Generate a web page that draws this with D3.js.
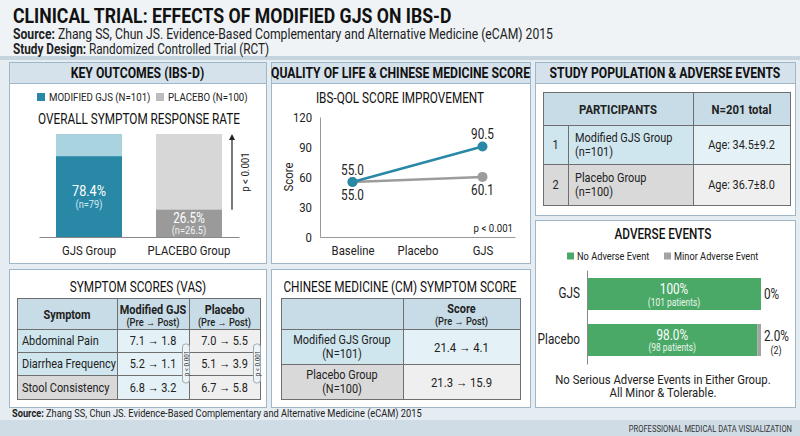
<!DOCTYPE html>
<html>
<head>
<meta charset="utf-8">
<script src="https://cdn.jsdelivr.net/npm/d3@7"></script>
<style>
  body { margin: 0; background: #e6edf2; }
  svg { display: block; font-family: Roboto, "Noto Sans", sans-serif; }
</style>
</head>
<body>
<script>
// ---- data ----
var chartTitle = 'CLINICAL TRIAL: EFFECTS OF MODIFIED GJS ON IBS-D';
var sourceText = 'Zhang SS, Chun JS. Evidence-Based Complementary and Alternative Medicine (eCAM) 2015';
var designText = 'Randomized Controlled Trial (RCT)';

var legendLabels = ['MODIFIED GJS (N=101)', 'PLACEBO (N=100)'];
var responseGroups = ['GJS Group', 'PLACEBO Group'];
var responseRates = [78.4, 26.5];
var responseN = ['(n=79)', '(n=26.5)'];

var vasSymptoms = ['Abdominal Pain', 'Diarrhea Frequency', 'Stool Consistency'];
var vasGjsPre = [7.1, 5.2, 6.8],
    vasGjsPost = [1.8, 1.1, 3.2],
    vasPlaPre = [7.0, 5.1, 6.7],
    vasPlaPost = [5.5, 3.9, 5.8];

var qolStages = ['Baseline', 'Placebo', 'GJS'];
var qolTicks = [0, 30, 60, 90, 120];
var qolGjs = [{stage: 'Baseline', v: 55.0}, {stage: 'GJS', v: 90.5}];
var qolPlacebo = [{stage: 'Baseline', v: 55.0}, {stage: 'GJS', v: 60.1}];

var cmGroups = ['Modified GJS Group', 'Placebo Group'];
var cmN = ['(N=101)', '(N=100)'];
var cmPre = [21.4, 21.3], cmPost = [4.1, 15.9];

var popGroups = ['Modified GJS Group', 'Placebo Group'];
var popN = ['(n=101)', '(n=100)'];
var popAgeMean = [34.5, 36.7], popAgeSd = [9.2, 8.0];
var popTotal = 201;

var aeGroups = ['GJS', 'Placebo'];
var aeNone = [100, 98.0], aeMinor = [0, 2.0];
var aeNonePatients = ['(101 patients)', '(98 patients)'];
var aeMinorLabels = ['0%', '2.0%'], aeMinorN = ['', '(2)'];

var teal = '#2a88a7', tealLight = '#a9d3df',
    grayDark = '#9a9a9a', grayLight = '#d7d7d7',
    green = '#4ba967', minorGray = '#a3a3a3';

var W = 800, H = 436, CONDENSE = 0.84;

var svg = d3.select('body').append('svg')
    .attr('width', W)
    .attr('height', H);

// background bands
svg.append('rect').attr('width', W).attr('height', H).attr('fill', '#e6edf2');
svg.append('rect').attr('width', W).attr('height', 56).attr('fill', '#eff3f6');
svg.append('rect').attr('y', 56).attr('width', W).attr('height', 4).attr('fill', '#c6d4de');
svg.append('rect').attr('y', 420).attr('width', W).attr('height', 16).attr('fill', '#d0dce5');

function txt(g, x, y, s, o) {
  o = o || {};
  return g.append('text')
    .attr('x', x).attr('y', y)
    .attr('text-anchor', o.anchor || 'middle')
    .attr('dominant-baseline', 'central')
    .style('font-size', (o.size || 12) + 'px')
    .style('font-weight', o.weight || 400)
    .style('fill', o.fill || '#222')
    .text(s);
}

function panel(x, y, w, h, title) {
  var g = svg.append('g');
  g.append('rect')
    .attr('x', x + 0.5).attr('y', y + 0.5)
    .attr('width', w).attr('height', h)
    .attr('fill', '#fff').attr('stroke', '#9fb7c7');
  if (title) {
    g.append('rect')
      .attr('x', x + 0.5).attr('y', y + 0.5)
      .attr('width', w).attr('height', 21)
      .attr('fill', '#d5e2eb').attr('stroke', '#9fb7c7');
    txt(g, x + w / 2, y + 11, title, {size: 14.5, weight: 700, fill: '#111'});
  }
  return g;
}

// draws a grid table from column edges, row edges and a cell-fill function
function grid(g, cols, rows, fill) {
  var cells = [];
  rows.slice(0, -1).forEach(function(r, i) {
    cols.slice(0, -1).forEach(function(c, j) {
      cells.push({r: i, c: j, x: c, y: r, w: cols[j + 1] - c, h: rows[i + 1] - r});
    });
  });
  g.selectAll(null)
    .data(cells)
    .enter().append('rect')
    .attr('x', function(d) { return d.x + 0.5; })
    .attr('y', function(d) { return d.y + 0.5; })
    .attr('width', function(d) { return d.w; })
    .attr('height', function(d) { return d.h; })
    .attr('fill', fill)
    .attr('stroke', '#6f6f6f');
}

// ---- header ----
txt(svg, 13, 16, chartTitle, {anchor: 'start', size: 21, weight: 700, fill: '#111'});
var s1 = txt(svg, 13, 34, '', {anchor: 'start', size: 14.5});
s1.append('tspan').style('font-weight', 700).text('Source: ');
s1.append('tspan').text(sourceText);
var s2 = txt(svg, 13, 49, '', {anchor: 'start', size: 14});
s2.append('tspan').style('font-weight', 700).text('Study Design: ');
s2.append('tspan').text(designText);

// ---- key outcomes ----
var p1 = panel(9, 62, 257, 201, 'KEY OUTCOMES (IBS-D)');

var legend = p1.selectAll('.lg')
    .data(legendLabels)
  .enter().append('g')
    .attr('transform', function(d, i) { return 'translate(' + (37 + i * 119) + ',97)'; });
legend.append('rect')
    .attr('y', -4).attr('width', 8).attr('height', 8)
    .attr('fill', function(d, i) { return i ? '#bdbdbd' : teal; });
legend.append('text')
    .attr('x', 12)
    .attr('dominant-baseline', 'central')
    .style('font-size', '11.5px').style('fill', '#222')
    .text(function(d) { return d; });

txt(p1, 139, 119, 'OVERALL SYMPTOM RESPONSE RATE', {size: 14, fill: '#111'});

var bx = d3.scaleBand()
    .domain(responseGroups)
    .range([39, 239])
    .paddingInner(0.34)
    .paddingOuter(0.17);
var by = d3.scaleLinear().domain([0, 100]).range([237, 134]);

p1.selectAll('.bg')
    .data(responseGroups)
  .enter().append('rect')
    .attr('x', function(d) { return bx(d); })
    .attr('y', by(100))
    .attr('width', bx.bandwidth())
    .attr('height', by(0) - by(100))
    .attr('fill', function(d, i) { return i ? grayLight : tealLight; });

p1.selectAll('.val')
    .data(responseRates)
  .enter().append('rect')
    .attr('x', function(d, i) { return bx(responseGroups[i]); })
    .attr('y', function(d) { return by(d); })
    .attr('width', bx.bandwidth())
    .attr('height', function(d) { return by(0) - by(d); })
    .attr('fill', function(d, i) { return i ? grayDark : teal; });

responseRates.forEach(function(d, i) {
  var cx = bx(responseGroups[i]) + bx.bandwidth() / 2;
  var mid = i ? by(d) + 8 : (by(d) + by(0)) / 2 - 6;
  txt(p1, cx, mid, d.toFixed(1) + '%', {size: i ? 14 : 15, fill: '#fff'});
  txt(p1, cx, mid + (i ? 12.5 : 14), responseN[i], {size: 11, fill: i ? '#f2f2f2' : '#d5ebf2'});
});

var bAxis = p1.append('g')
    .attr('transform', 'translate(0,' + by(0) + ')')
    .call(d3.axisBottom(bx).tickSize(0).tickPadding(8));
bAxis.select('.domain').attr('stroke', '#888');
bAxis.selectAll('text').style('font-size', '13.5px').style('fill', '#222')
    .style('font-family', 'Roboto, sans-serif');

// p-value arrow
p1.append('line')
    .attr('x1', 232).attr('x2', 232)
    .attr('y1', by(26.5)).attr('y2', by(100) + 5)
    .attr('stroke', '#222').attr('stroke-width', 1.2);
p1.append('path')
    .attr('d', d3.line()([[229, by(100) + 6], [232, by(100)], [235, by(100) + 6]]))
    .attr('fill', '#222');
txt(p1, 245, 172, 'p < 0.001', {size: 11.5})
    .attr('transform', 'rotate(-90,245,172)');

// ---- symptom scores (VAS) ----
var p2 = panel(9, 269, 257, 138);
txt(p2, 138, 287, 'SYMPTOM SCORES (VAS)', {size: 14, fill: '#111'});
var vCols = [17, 117, 189, 260], vRows = [298, 329, 352, 375, 399];
grid(p2, vCols, vRows, function(d) {
  if (d.r === 0) return '#c8dce7';
  if (d.c === 0) return d.r < 3 ? '#cfe6ee' : '#d9d9d9';
  return d.c === 1 ? '#e4f1f6' : '#efefef';
});
txt(p2, 67, 314, 'Symptom', {size: 13, weight: 700});
txt(p2, 153, 309, 'Modified GJS', {size: 13, weight: 700});
txt(p2, 153, 322, '(Pre \u2192 Post)', {size: 11, weight: 500});
txt(p2, 224.5, 309, 'Placebo', {size: 13, weight: 700});
txt(p2, 224.5, 322, '(Pre \u2192 Post)', {size: 11, weight: 500});
vasSymptoms.forEach(function(s, i) {
  var cy = (vRows[i + 1] + vRows[i + 2]) / 2;
  txt(p2, 22, cy, s, {anchor: 'start', size: 13});
  txt(p2, 153, cy, vasGjsPre[i].toFixed(1) + ' \u2192 ' + vasGjsPost[i].toFixed(1), {size: 13});
  txt(p2, 224.5, cy, vasPlaPre[i].toFixed(1) + ' \u2192 ' + vasPlaPost[i].toFixed(1), {size: 13});
});
[186, 257].forEach(function(bxp) {
  p2.append('rect')
    .attr('x', bxp - 3.5).attr('y', 344).attr('width', 7).attr('height', 39).attr('rx', 3)
    .attr('fill', '#eef3f6').attr('stroke', '#9aaab5');
  txt(p2, bxp, 363.5, 'p < 0.001', {size: 7.5, fill: '#333'})
    .attr('transform', 'rotate(-90,' + bxp + ',363.5)');
});

// ---- quality of life ----
var p3 = panel(271, 62, 259, 201, 'QUALITY OF LIFE & CHINESE MEDICINE SCORE');
txt(p3, 400, 98, 'IBS-QOL SCORE IMPROVEMENT', {size: 14, fill: '#111'});

var qx = d3.scalePoint().domain(qolStages).range([320, 515]).padding(0.5);
var qy = d3.scaleLinear().domain([0, 120]).range([237, 117]);

var yAx = p3.append('g')
    .attr('transform', 'translate(320,0)')
    .call(d3.axisLeft(qy).tickValues(qolTicks).tickSize(0).tickPadding(8));
var xAx = p3.append('g')
    .attr('transform', 'translate(0,237)')
    .call(d3.axisBottom(qx).tickSize(0).tickPadding(8));
[yAx, xAx].forEach(function(a) {
  a.select('.domain').attr('stroke', '#999');
  a.selectAll('text').style('font-size', '13.5px').style('fill', '#222')
    .style('font-family', 'Roboto, sans-serif');
});
txt(p3, 288, 177, 'Score', {size: 13.5})
    .attr('transform', 'rotate(-90,288,177)');

var qline = d3.line()
    .x(function(d) { return qx(d.stage); })
    .y(function(d) { return qy(d.v); });
[[qolPlacebo, '#9c9c9c'], [qolGjs, teal]].forEach(function(s) {
  p3.append('path').attr('d', qline(s[0]))
    .attr('fill', 'none').attr('stroke', s[1]).attr('stroke-width', 2.5);
  p3.selectAll(null).data(s[0]).enter().append('circle')
    .attr('cx', function(d) { return qx(d.stage); })
    .attr('cy', function(d) { return qy(d.v); })
    .attr('r', 5).attr('fill', s[1]);
});
txt(p3, qx('Baseline'), qy(qolGjs[0].v) - 12, qolGjs[0].v.toFixed(1), {size: 14});
txt(p3, qx('Baseline'), qy(qolPlacebo[0].v) + 13, qolPlacebo[0].v.toFixed(1), {size: 14});
txt(p3, qx('GJS'), qy(qolGjs[1].v) - 13, qolGjs[1].v.toFixed(1), {size: 14});
txt(p3, qx('GJS'), qy(qolPlacebo[1].v) + 13, qolPlacebo[1].v.toFixed(1), {size: 14});
txt(p3, 513, 228, 'p < 0.001', {anchor: 'end', size: 11.5});

// ---- CM symptom score ----
var p4 = panel(271, 269, 259, 138);
txt(p4, 400, 287, 'CHINESE MEDICINE (CM) SYMPTOM SCORE', {size: 14, fill: '#111'});
var cCols = [281, 403, 520], cRows = [298, 329, 364, 399];
grid(p4, cCols, cRows, function(d) {
  if (d.r === 0) return '#c8dce7';
  if (d.c === 0) return d.r === 1 ? '#cfe6ee' : '#d9d9d9';
  return d.r === 1 ? '#e4f1f6' : '#efefef';
});
txt(p4, 461.5, 308, 'Score', {size: 13, weight: 700});
txt(p4, 461.5, 321, '(Pre \u2192 Post)', {size: 11, weight: 500});
cmGroups.forEach(function(s, i) {
  var cy = (cRows[i + 1] + cRows[i + 2]) / 2;
  txt(p4, 342, cy - 7, s, {size: 13});
  txt(p4, 342, cy + 7, cmN[i], {size: 13});
  txt(p4, 461.5, cy, cmPre[i].toFixed(1) + ' \u2192 ' + cmPost[i].toFixed(1), {size: 13.5});
});

// ---- study population ----
var p5 = panel(535, 62, 260, 153, 'STUDY POPULATION & ADVERSE EVENTS');
var pCols = [543, 568, 693, 790], pRows = [92, 125, 164, 205];
p5.append('rect')
    .attr('x', pCols[0] + 0.5).attr('y', pRows[0] + 0.5)
    .attr('width', pCols[2] - pCols[0]).attr('height', pRows[1] - pRows[0])
    .attr('fill', '#c8dce7').attr('stroke', '#6f6f6f');
p5.append('rect')
    .attr('x', pCols[2] + 0.5).attr('y', pRows[0] + 0.5)
    .attr('width', pCols[3] - pCols[2]).attr('height', pRows[1] - pRows[0])
    .attr('fill', '#c8dce7').attr('stroke', '#6f6f6f');
grid(p5, pCols, pRows.slice(1), function(d) {
  if (d.c < 2) return d.r === 0 ? '#cfe6ee' : '#d9d9d9';
  return d.r === 0 ? '#e4f1f6' : '#efefef';
});
txt(p5, 618, 108.5, 'PARTICIPANTS', {size: 13.5, weight: 700});
txt(p5, 741.5, 108.5, 'N=' + popTotal + ' total', {size: 13.5, weight: 700});
popGroups.forEach(function(s, i) {
  var cy = (pRows[i + 1] + pRows[i + 2]) / 2;
  txt(p5, 555.5, cy, String(i + 1), {size: 13});
  txt(p5, 575, cy - 7, s, {anchor: 'start', size: 13});
  txt(p5, 575, cy + 7, popN[i], {anchor: 'start', size: 13});
  txt(p5, 741.5, cy, 'Age: ' + popAgeMean[i].toFixed(1) + '\u00b1' + popAgeSd[i].toFixed(1), {size: 13});
});

// ---- adverse events ----
var p6 = panel(535, 220, 260, 187);
txt(p6, 663, 234, 'ADVERSE EVENTS', {size: 14, weight: 500, fill: '#111'});
var aeLegend = p6.selectAll('.ael')
    .data(['No Adverse Event', 'Minor Adverse Event'])
  .enter().append('g')
    .attr('transform', function(d, i) { return 'translate(' + (567 + i * 97) + ',256)'; });
aeLegend.append('rect')
    .attr('y', -3.5).attr('width', 7).attr('height', 7)
    .attr('fill', function(d, i) { return i ? minorGray : green; });
aeLegend.append('text')
    .attr('x', 10)
    .attr('dominant-baseline', 'central')
    .style('font-size', '11px').style('fill', '#222')
    .text(function(d) { return d; });

var ay = d3.scaleBand().domain(aeGroups).range([270, 364]).paddingInner(0.304).paddingOuter(0.174);
var ax = d3.scaleLinear().domain([0, 100]).range([587, 761]);

p6.selectAll('.aen')
    .data(aeNone)
  .enter().append('rect')
    .attr('x', ax(0))
    .attr('y', function(d, i) { return ay(aeGroups[i]); })
    .attr('width', function(d) { return ax(d) - ax(0); })
    .attr('height', ay.bandwidth())
    .attr('fill', green);
p6.selectAll('.aem')
    .data(aeMinor)
  .enter().append('rect')
    .attr('x', function(d, i) { return ax(aeNone[i]); })
    .attr('y', function(d, i) { return ay(aeGroups[i]); })
    .attr('width', function(d, i) { return ax(aeNone[i] + d) - ax(aeNone[i]); })
    .attr('height', ay.bandwidth())
    .attr('fill', minorGray);

var aAx = p6.append('g')
    .attr('transform', 'translate(' + ax(0) + ',0)')
    .call(d3.axisLeft(ay).tickSize(0).tickPadding(7));
aAx.select('.domain').attr('stroke', '#888');
aAx.selectAll('text').style('font-size', '14px').style('fill', '#222')
    .style('font-family', 'Roboto, sans-serif');

aeNone.forEach(function(d, i) {
  var cy = ay(aeGroups[i]) + ay.bandwidth() / 2;
  var cx = (ax(0) + ax(d)) / 2;
  txt(p6, cx, cy - 5, (d === 100 ? '100' : d.toFixed(1)) + '%', {size: 14, fill: '#fff'});
  txt(p6, cx, cy + 8, aeNonePatients[i], {size: 10, fill: '#eaf6ee'});
  txt(p6, ax(100) + 3, cy - (aeMinorN[i] ? 4 : 0), aeMinorLabels[i], {anchor: 'start', size: 14});
  if (aeMinorN[i]) txt(p6, ax(100) + 15, cy + 11, aeMinorN[i], {size: 10.5});
});
txt(p6, 663, 379, 'No Serious Adverse Events in Either Group.', {size: 13.5});
txt(p6, 663, 392, 'All Minor & Tolerable.', {size: 13.5});

// ---- footer ----
var f1 = txt(svg, 12, 413, '', {anchor: 'start', size: 11});
f1.append('tspan').style('font-weight', 700).text('Source: ');
f1.append('tspan').text(sourceText);
txt(svg, 792, 429, 'PROFESSIONAL MEDICAL DATA VISUALIZATION', {anchor: 'end', size: 9, fill: '#333'});

// condensed look: squeeze every label horizontally
svg.selectAll('text').each(function() {
  var len = this.getComputedTextLength();
  if (len > 0) {
    d3.select(this)
      .attr('textLength', len * CONDENSE)
      .attr('lengthAdjust', 'spacingAndGlyphs');
  }
});
</script>
</body>
</html>
